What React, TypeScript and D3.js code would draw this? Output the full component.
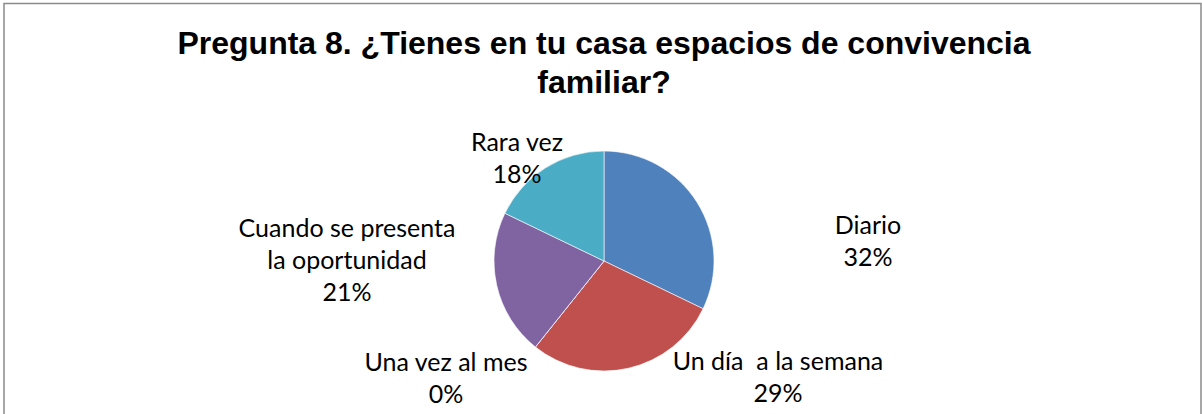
import React from 'react'
import * as d3 from 'd3'

// chart data (share of answers)
const categories = ['Diario', 'Un día  a la semana', 'Una vez al mes', 'Cuando se presenta la oportunidad', 'Rara vez']
const counts = [18, 16, 0, 12, 10]
const colors = ['#4F81BD', '#C0504D', '#9BBB59', '#8064A2', '#4BACC6']
const titleLines = ['Pregunta 8. ¿Tienes en tu casa espacios de convivencia', 'familiar?']

// label text lines (Excel wraps these by itself)
const labelLines = [
  ['Diario'],
  ['Un día  a la semana'],
  ['Una vez al mes'],
  ['Cuando se presenta', 'la oportunidad'],
  ['Rara vez'],
]

const W = 1202
const H = 414

export default function App() {
  const cx = 604, cy = 261, r = 110

  const pie = d3.pie<number>().sort(null).value(d => d)
  const arcs = pie(counts)
  const arc = d3.arc<d3.PieArcDatum<number>>().innerRadius(0).outerRadius(r)
  const total = d3.sum(counts)
  const pct = d3.format('.0%')

  // label anchors relative to the pie centre (best fit, as excel put them)
  const labelAnchor = [
    { dx: 264, dy: -27 },
    { dx: 174, dy: 109 },
    { dx: -158, dy: 110 },
    { dx: -257, dy: -24 },
    { dx: -87, dy: -110 },
  ]
  const lineH = 32

  return (
    <svg width={W} height={H} style={{ position: 'absolute', left: 0, top: 0, background: '#fff' }}>
      <rect x={4} y={3.5} width={1197} height={H + 20} fill="#fff" stroke="#8a8a8a" strokeWidth={1.5} />

      <g fontFamily="'Liberation Sans', Arial, sans-serif" fontWeight="bold" fontSize={32} textAnchor="middle" fill="#000">
        {titleLines.map((t, i) => (
          <text key={i} x={604} y={54 + i * 39}>{t}</text>
        ))}
      </g>

      <g transform={`translate(${cx},${cy})`}>
        {arcs.map((a, i) => (
          <path key={i} d={arc(a) || ''} fill={colors[i]} stroke="#fff" strokeWidth={0.6} />
        ))}
      </g>

      <g fontFamily="Lato, 'Open Sans', sans-serif" fontSize={25} textAnchor="middle" fill="#000" style={{ whiteSpace: 'pre' }}>
        {categories.map((c, i) => {
          const lines = [...labelLines[i], pct(counts[i] / total)]
          const x = cx + labelAnchor[i].dx
          const y0 = cy + labelAnchor[i].dy
          return (
            <text key={c} x={x} y={y0} xmlSpace="preserve">
              {lines.map((l, j) => (
                <tspan key={j} x={x} y={y0 + j * lineH}>{l}</tspan>
              ))}
            </text>
          )
        })}
      </g>
    </svg>
  )
}
